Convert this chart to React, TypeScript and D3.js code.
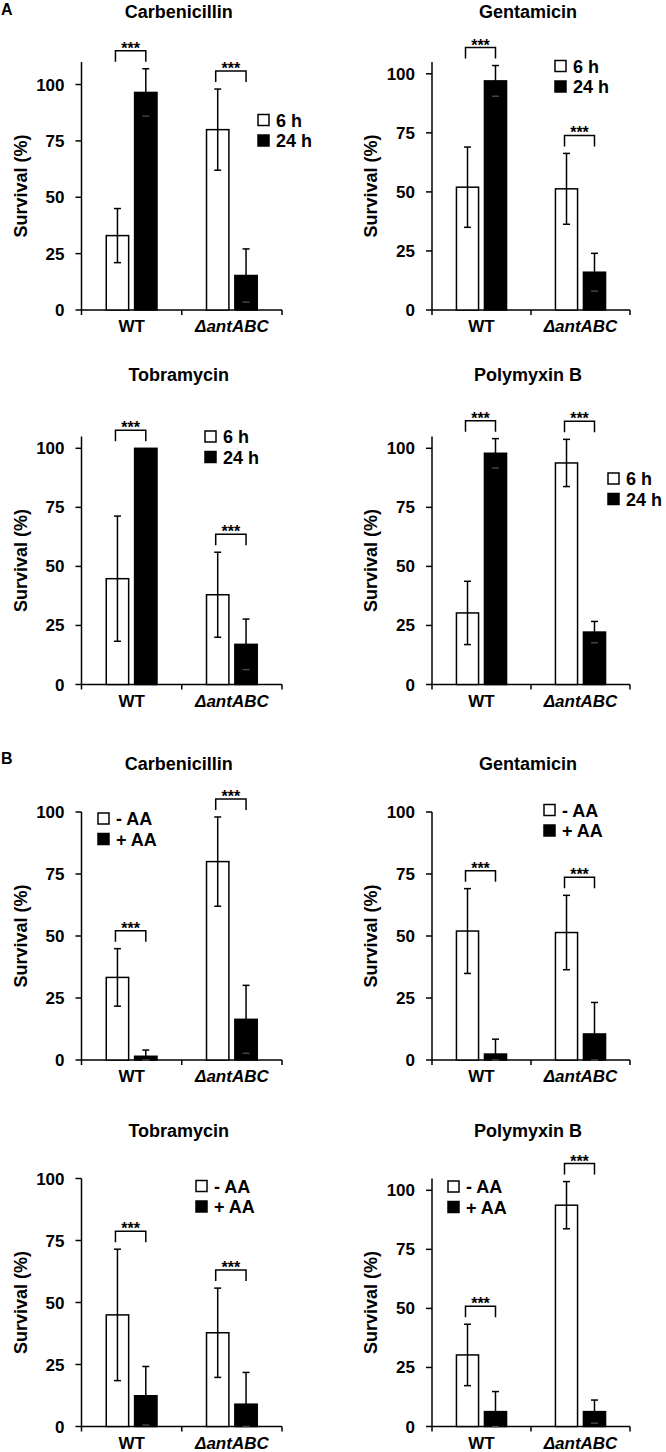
import React from "react";
import * as d3 from "d3";

// ---------- data ----------
const groups = ["WT", "ΔantABC"];
const antibiotics = ["Carbenicillin", "Gentamicin", "Tobramycin", "Polymyxin B"];
const timeSeries = ["6 h", "24 h"];
const aaSeries = ["- AA", "+ AA"];
const yTicks = [0, 25, 50, 75, 100];

// Panel A: [WT, ΔantABC] per antibiotic
const a6hMean = [[33, 80], [52, 51.3], [44.8, 38], [30.3, 93.8]];
const a6hErr = [[12, 18], [17, 15], [26.5, 18], [13.4, 10]];
const a24hMean = [[96.5, 15.3], [97, 16], [100, 17], [97.9, 22.2]];
const a24hErr = [[10.5, 11.8], [6.5, 8], [0, 10.7], [6.2, 4.5]];
const aYMax = [110, 105, 105, 105];

// Panel B: [WT, ΔantABC] per antibiotic
const bMinusMean = [[33.3, 80], [52, 51.4], [45, 37.8], [30.3, 93.7]];
const bMinusErr = [[11.6, 18], [17.1, 15], [26.5, 18], [13, 10]];
const bPlusMean = [[1.5, 16.4], [2.4, 10.5], [12.4, 9], [6.3, 6.3]];
const bPlusErr = [[2.5, 13.7], [6, 12.7], [11.8, 12.8], [8.5, 4.9]];
const bYMax = [100, 100, 100, 105];

// ---------- layout ----------
const FONT = "'Liberation Sans', Arial, Helvetica, sans-serif";
const cols = [
  { x0: 81.5, x1: 282 },
  { x0: 432, x1: 630 },
];
const rowTops = [62, 436.5, 812, 1178.5];
const titleBaselines = [18, 381, 770, 1137];
const PLOT_H = 248;
// legend offsets (square left, first row center) relative to (x0, top)
const legendOffsets = [
  [176.5, 58], [123, 4], [123.5, 0], [176, 42],
  [16.5, 6.5], [112, -2], [114.5, 7.5], [16, 8],
];

type PanelProps = {
  title: string;
  m1: number[]; e1: number[]; m2: number[]; e2: number[];
  yMax: number;
  series: string[];
  x0: number; x1: number; top: number; titleY: number;
  legend: number[];
};

function Panel(p: PanelProps) {
  const { x0, x1, top } = p;
  const bottom = top + PLOT_H;
  const y = d3.scaleLinear().domain([0, p.yMax]).range([bottom, top]);
  const xg = d3.scaleBand<string>().domain(groups).range([x0, x1]).padding(0);
  const bw = xg.bandwidth();
  const xs = d3
    .scaleBand<string>()
    .domain(p.series)
    .range([bw * 0.247, bw * 0.753])
    .paddingInner(0.21)
    .paddingOuter(0);
  const sw = 1.5;
  const cap = 3.5;

  const els: React.ReactNode[] = [];
  groups.forEach((g, gi) => {
    const vals = [
      { s: p.series[0], m: p.m1[gi], e: p.e1[gi], fill: "#fff" },
      { s: p.series[1], m: p.m2[gi], e: p.e2[gi], fill: "#000" },
    ];
    const centers: number[] = [];
    vals.forEach((v, si) => {
      const bx = (xg(g) as number) + (xs(v.s) as number);
      const w = xs.bandwidth();
      const cx = bx + w / 2;
      centers.push(cx);
      els.push(
        <rect key={`b${gi}${si}`} x={bx} y={y(v.m)} width={w} height={bottom - y(v.m)}
          fill={v.fill} stroke="#000" strokeWidth={sw} />
      );
      if (v.e > 0) {
        const yt = y(v.m + v.e);
        const yb = y(Math.max(0, v.m - v.e));
        els.push(
          <g key={`e${gi}${si}`} stroke="#000" strokeWidth={sw}>
            <line x1={cx} x2={cx} y1={yt} y2={yb} />
            <line x1={cx - cap} x2={cx + cap} y1={yt} y2={yt} />
            <line x1={cx - cap} x2={cx + cap} y1={yb} y2={yb} stroke={v.fill === "#000" && yb > y(v.m) ? "#444" : "#000"} />
          </g>
        );
      }
    });
    // significance bracket
    const maxTop = Math.max(...vals.map((v) => v.m + v.e));
    const legEnd = y(maxTop) - 7;
    const bt = legEnd - 11;
    const xl = centers[0] - 2;
    const xr = centers[1];
    els.push(
      <g key={`s${gi}`}>
        <path d={`M${xl},${legEnd}V${bt}H${xr}V${legEnd}`} fill="none" stroke="#000" strokeWidth={sw} />
        <text x={(xl + xr) / 2} y={bt + 3} textAnchor="middle" fontSize={16} fontWeight="bold" fontFamily={FONT}>***</text>
      </g>
    );
  });

  const lx = x0 + p.legend[0];
  const ly = top + p.legend[1];
  const sq = 11;

  return (
    <g>
      <text x={(x0 + x1) / 2 - 3} y={p.titleY} textAnchor="middle" fontSize={18} fontWeight="bold" fontFamily={FONT}>
        {p.title}
      </text>
      {/* y axis */}
      <line x1={x0} x2={x0} y1={top} y2={bottom} stroke="#000" strokeWidth={sw} />
      {yTicks.map((t) => (
        <g key={t}>
          <line x1={x0 - 6} x2={x0} y1={y(t)} y2={y(t)} stroke="#000" strokeWidth={sw} />
          <text x={x0 - 17} y={y(t) + 6} textAnchor="end" fontSize={17} fontWeight="bold" fontFamily={FONT}>{t}</text>
        </g>
      ))}
      <text transform={`translate(${x0 - 55},${top + PLOT_H / 2}) rotate(-90)`} textAnchor="middle"
        fontSize={18} fontWeight="bold" fontFamily={FONT}>Survival (%)</text>
      {/* x axis */}
      <line x1={x0} x2={x1} y1={bottom} y2={bottom} stroke="#000" strokeWidth={sw} />
      {[x0, ...groups.map((g) => (xg(g) as number) + bw)].map((tx, i) => (
        <line key={i} x1={tx} x2={tx} y1={bottom} y2={bottom + 5} stroke="#000" strokeWidth={sw} />
      ))}
      {groups.map((g, i) => (
        <text key={g} x={(xg(g) as number) + bw / 2} y={bottom + 22} textAnchor="middle" fontSize={17}
          fontWeight="bold" fontStyle={i === 1 ? "italic" : "normal"} fontFamily={FONT}>{g}</text>
      ))}
      {els}
      {/* legend */}
      {p.series.map((s, i) => (
        <g key={s}>
          <rect x={lx} y={ly + i * 20.5 - sq / 2} width={sq} height={sq} fill={i === 0 ? "#fff" : "#000"}
            stroke="#000" strokeWidth={sw} />
          <text x={lx + 18} y={ly + i * 20.5 + 6.5} fontSize={18} fontWeight="bold" fontFamily={FONT}>{s}</text>
        </g>
      ))}
    </g>
  );
}

export default function App() {
  const panels: React.ReactNode[] = [];
  antibiotics.forEach((ab, i) => {
    const c = cols[i % 2];
    const r = Math.floor(i / 2);
    panels.push(
      <Panel key={`A${i}`} title={ab} m1={a6hMean[i]} e1={a6hErr[i]} m2={a24hMean[i]} e2={a24hErr[i]}
        yMax={aYMax[i]} series={timeSeries} x0={c.x0} x1={c.x1} top={rowTops[r]} titleY={titleBaselines[r]}
        legend={legendOffsets[i]} />
    );
  });
  antibiotics.forEach((ab, i) => {
    const c = cols[i % 2];
    const r = 2 + Math.floor(i / 2);
    panels.push(
      <Panel key={`B${i}`} title={ab} m1={bMinusMean[i]} e1={bMinusErr[i]} m2={bPlusMean[i]} e2={bPlusErr[i]}
        yMax={bYMax[i]} series={aaSeries} x0={c.x0} x1={c.x1} top={rowTops[r]} titleY={titleBaselines[r]}
        legend={legendOffsets[4 + i]} />
    );
  });
  return (
    <svg width={666} height={1452} style={{ position: "absolute", left: 0, top: 0, background: "#fff" }}>
      <rect width={666} height={1452} fill="#fff" />
      <text x={1} y={15} fontSize={16} fontWeight="bold" fontFamily={FONT}>A</text>
      <text x={1} y={764} fontSize={16} fontWeight="bold" fontFamily={FONT}>B</text>
      {panels}
    </svg>
  );
}
